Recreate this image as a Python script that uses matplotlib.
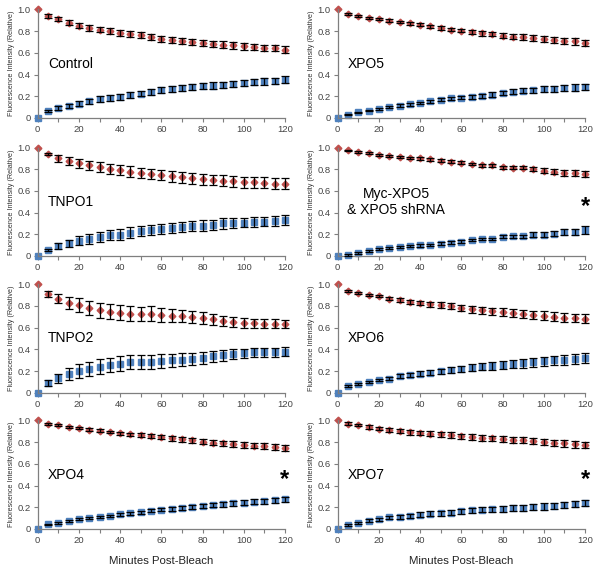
import numpy as np
import matplotlib.pyplot as plt

plt.rcParams['font.family'] = ['Liberation Sans', 'DejaVu Sans']

minutes = list(range(0, 125, 5))

names = ['Control', 'XPO5', 'TNPO1', 'Myc-XPO5\n& XPO5 shRNA', 'TNPO2', 'XPO6', 'XPO4', 'XPO7']
starred = [False, False, False, True, False, False, True, True]

# red = bleached compartment (decreasing), blue = recovery (increasing)
ctrl_red = [1.0, 0.94, 0.91, 0.88, 0.85, 0.83, 0.815, 0.80, 0.785, 0.775, 0.763, 0.745, 0.73,
            0.717, 0.708, 0.70, 0.692, 0.683, 0.677, 0.67, 0.66, 0.652, 0.646, 0.643, 0.63]
ctrl_red_err = [0, 0.015, 0.02, 0.022, 0.024, 0.025, 0.026, 0.027, 0.028, 0.028, 0.029, 0.029, 0.03,
                0.03, 0.03, 0.03, 0.03, 0.03, 0.03, 0.03, 0.03, 0.03, 0.03, 0.03, 0.03]
ctrl_blue = [0.0, 0.068, 0.092, 0.114, 0.132, 0.154, 0.175, 0.185, 0.194, 0.215, 0.225, 0.243, 0.255,
             0.268, 0.277, 0.283, 0.292, 0.298, 0.305, 0.314, 0.323, 0.332, 0.338, 0.342, 0.354]
ctrl_blue_err = [0, 0.01, 0.015, 0.018, 0.02, 0.022, 0.024, 0.025, 0.026, 0.027, 0.027, 0.028, 0.028,
                 0.028, 0.029, 0.029, 0.029, 0.03, 0.03, 0.03, 0.03, 0.03, 0.03, 0.03, 0.03]

xpo5_red = [1.0, 0.96, 0.94, 0.923, 0.914, 0.898, 0.883, 0.871, 0.858, 0.846, 0.83, 0.815, 0.806,
            0.794, 0.78, 0.775, 0.76, 0.75, 0.745, 0.735, 0.726, 0.72, 0.71, 0.705, 0.692]
xpo5_red_err = [0, 0.008, 0.008, 0.009, 0.01, 0.011, 0.012, 0.013, 0.014, 0.015, 0.016, 0.017, 0.018,
                0.019, 0.02, 0.021, 0.023, 0.024, 0.025, 0.026, 0.027, 0.028, 0.029, 0.03, 0.03]
xpo5_blue = [0.0, 0.03, 0.052, 0.068, 0.083, 0.10, 0.114, 0.126, 0.138, 0.154, 0.17, 0.18, 0.188,
             0.197, 0.206, 0.215, 0.23, 0.24, 0.25, 0.255, 0.265, 0.268, 0.274, 0.28, 0.286]
xpo5_blue_err = [0, 0.006, 0.007, 0.008, 0.009, 0.01, 0.011, 0.012, 0.013, 0.014, 0.015, 0.016, 0.017,
                 0.018, 0.019, 0.02, 0.022, 0.023, 0.024, 0.025, 0.026, 0.027, 0.028, 0.029, 0.03]

tnpo1_red = [1.0, 0.94, 0.90, 0.878, 0.854, 0.838, 0.817, 0.805, 0.796, 0.777, 0.765, 0.756, 0.747,
             0.735, 0.726, 0.716, 0.707, 0.70, 0.695, 0.689, 0.68, 0.68, 0.674, 0.668, 0.665]
tnpo1_red_err = [0, 0.012, 0.03, 0.035, 0.04, 0.042, 0.045, 0.046, 0.047, 0.048, 0.048, 0.049, 0.05,
                 0.05, 0.05, 0.05, 0.05, 0.05, 0.05, 0.05, 0.05, 0.05, 0.05, 0.05, 0.05]
tnpo1_blue = [0.0, 0.055, 0.09, 0.116, 0.14, 0.158, 0.177, 0.192, 0.198, 0.216, 0.229, 0.238, 0.247,
              0.256, 0.265, 0.277, 0.28, 0.287, 0.30, 0.30, 0.308, 0.311, 0.317, 0.323, 0.33]
tnpo1_blue_err = [0, 0.012, 0.03, 0.035, 0.04, 0.043, 0.045, 0.046, 0.047, 0.048, 0.048, 0.048, 0.048,
                  0.048, 0.048, 0.048, 0.048, 0.047, 0.047, 0.046, 0.045, 0.045, 0.045, 0.045, 0.045]

myc_red = [1.0, 0.975, 0.96, 0.95, 0.933, 0.924, 0.915, 0.905, 0.90, 0.89, 0.878, 0.869, 0.86,
           0.848, 0.835, 0.835, 0.817, 0.814, 0.814, 0.80, 0.787, 0.777, 0.768, 0.768, 0.756]
myc_red_err = [0, 0.006, 0.007, 0.008, 0.009, 0.01, 0.01, 0.011, 0.011, 0.012, 0.012, 0.012, 0.012,
               0.012, 0.012, 0.012, 0.014, 0.015, 0.016, 0.02, 0.022, 0.025, 0.027, 0.028, 0.03]
myc_blue = [0.0, 0.01, 0.03, 0.046, 0.064, 0.07, 0.085, 0.09, 0.098, 0.10, 0.113, 0.122, 0.131,
            0.146, 0.158, 0.158, 0.177, 0.18, 0.18, 0.198, 0.198, 0.207, 0.22, 0.222, 0.238]
myc_blue_err = [0, 0.006, 0.007, 0.008, 0.009, 0.01, 0.01, 0.011, 0.011, 0.012, 0.012, 0.012, 0.012,
                0.012, 0.012, 0.012, 0.013, 0.014, 0.015, 0.02, 0.022, 0.025, 0.027, 0.028, 0.035]

tnpo2_red = [1.0, 0.914, 0.868, 0.828, 0.807, 0.785, 0.76, 0.748, 0.736, 0.73, 0.724, 0.73, 0.718,
             0.71, 0.709, 0.70, 0.69, 0.675, 0.663, 0.65, 0.644, 0.638, 0.635, 0.635, 0.632]
tnpo2_red_err = [0, 0.028, 0.045, 0.055, 0.062, 0.065, 0.068, 0.068, 0.068, 0.066, 0.065, 0.065, 0.063,
                 0.06, 0.058, 0.055, 0.053, 0.05, 0.048, 0.046, 0.045, 0.044, 0.042, 0.041, 0.04]
tnpo2_blue = [0.0, 0.086, 0.132, 0.172, 0.20, 0.215, 0.24, 0.255, 0.267, 0.28, 0.285, 0.28, 0.295,
              0.30, 0.304, 0.31, 0.32, 0.334, 0.344, 0.353, 0.362, 0.371, 0.374, 0.374, 0.377]
tnpo2_blue_err = [0, 0.028, 0.045, 0.055, 0.062, 0.065, 0.068, 0.068, 0.068, 0.066, 0.065, 0.065, 0.063,
                  0.06, 0.058, 0.055, 0.053, 0.05, 0.048, 0.046, 0.045, 0.044, 0.042, 0.041, 0.04]

xpo6_red = [1.0, 0.94, 0.92, 0.902, 0.89, 0.868, 0.853, 0.837, 0.828, 0.816, 0.807, 0.797, 0.782,
            0.77, 0.76, 0.75, 0.742, 0.733, 0.724, 0.718, 0.709, 0.70, 0.693, 0.69, 0.684]
xpo6_red_err = [0, 0.008, 0.009, 0.01, 0.012, 0.015, 0.018, 0.02, 0.022, 0.024, 0.026, 0.028, 0.03,
                0.032, 0.034, 0.035, 0.036, 0.037, 0.038, 0.039, 0.04, 0.04, 0.04, 0.04, 0.04]
xpo6_blue = [0.0, 0.061, 0.08, 0.10, 0.117, 0.129, 0.15, 0.166, 0.175, 0.184, 0.196, 0.209, 0.218,
             0.23, 0.24, 0.248, 0.255, 0.264, 0.27, 0.282, 0.291, 0.298, 0.304, 0.31, 0.319]
xpo6_blue_err = [0, 0.008, 0.009, 0.01, 0.012, 0.015, 0.018, 0.02, 0.022, 0.024, 0.026, 0.028, 0.03,
                 0.032, 0.034, 0.036, 0.038, 0.039, 0.04, 0.041, 0.042, 0.043, 0.044, 0.045, 0.045]

xpo4_red = [1.0, 0.969, 0.96, 0.944, 0.928, 0.916, 0.906, 0.894, 0.881, 0.872, 0.866, 0.856, 0.844,
            0.834, 0.825, 0.816, 0.803, 0.797, 0.79, 0.784, 0.775, 0.769, 0.762, 0.756, 0.747]
xpo4_red_err = [0, 0.007, 0.008, 0.009, 0.01, 0.011, 0.012, 0.013, 0.014, 0.015, 0.016, 0.017, 0.018,
                0.019, 0.02, 0.021, 0.022, 0.023, 0.024, 0.025, 0.026, 0.027, 0.028, 0.029, 0.03]
xpo4_blue = [0.0, 0.044, 0.056, 0.075, 0.088, 0.10, 0.11, 0.119, 0.134, 0.144, 0.156, 0.169, 0.178,
             0.184, 0.194, 0.203, 0.213, 0.219, 0.228, 0.238, 0.244, 0.25, 0.256, 0.263, 0.272]
xpo4_blue_err = [0, 0.006, 0.007, 0.008, 0.009, 0.01, 0.011, 0.012, 0.012, 0.013, 0.014, 0.015, 0.016,
                 0.017, 0.018, 0.019, 0.02, 0.021, 0.022, 0.023, 0.023, 0.024, 0.024, 0.025, 0.025]

xpo7_red = [1.0, 0.972, 0.96, 0.94, 0.925, 0.91, 0.903, 0.89, 0.884, 0.878, 0.872, 0.866, 0.853,
            0.847, 0.84, 0.834, 0.828, 0.822, 0.816, 0.81, 0.803, 0.794, 0.788, 0.78, 0.772]
xpo7_red_err = [0, 0.01, 0.012, 0.014, 0.016, 0.018, 0.02, 0.021, 0.022, 0.023, 0.024, 0.025, 0.025,
                0.026, 0.026, 0.027, 0.027, 0.028, 0.028, 0.029, 0.029, 0.03, 0.03, 0.03, 0.03]
xpo7_blue = [0.0, 0.04, 0.056, 0.078, 0.09, 0.106, 0.1125, 0.122, 0.131, 0.14, 0.147, 0.15, 0.1625,
             0.172, 0.178, 0.181, 0.184, 0.19, 0.197, 0.203, 0.206, 0.2125, 0.222, 0.231, 0.24]
xpo7_blue_err = [0, 0.008, 0.01, 0.012, 0.014, 0.016, 0.018, 0.02, 0.021, 0.022, 0.023, 0.024, 0.025,
                 0.025, 0.026, 0.026, 0.027, 0.027, 0.028, 0.028, 0.029, 0.029, 0.03, 0.03, 0.03]

red_sets = [(ctrl_red, ctrl_red_err), (xpo5_red, xpo5_red_err), (tnpo1_red, tnpo1_red_err),
            (myc_red, myc_red_err), (tnpo2_red, tnpo2_red_err), (xpo6_red, xpo6_red_err),
            (xpo4_red, xpo4_red_err), (xpo7_red, xpo7_red_err)]
blue_sets = [(ctrl_blue, ctrl_blue_err), (xpo5_blue, xpo5_blue_err), (tnpo1_blue, tnpo1_blue_err),
             (myc_blue, myc_blue_err), (tnpo2_blue, tnpo2_blue_err), (xpo6_blue, xpo6_blue_err),
             (xpo4_blue, xpo4_blue_err), (xpo7_blue, xpo7_blue_err)]

RED = '#C0504D'
BLUE = '#4F81BD'
AXC = '#7F7F7F'

fig = plt.figure(figsize=(6.01, 5.68), dpi=100)

lefts = [0.0627, 0.5619]
bottoms = [0.7923, 0.5493, 0.3086, 0.0687]
w, h = 0.4115, 0.191

for i in range(8):
    r, c = divmod(i, 2)
    ax = fig.add_axes([lefts[c], bottoms[r], w, h])
    ry, re = red_sets[i]
    by, be = blue_sets[i]
    # markers first, error bars drawn over them (as in the original)
    ax.plot(minutes, ry, 'D', color=RED, ms=3.4, mec=RED, zorder=2, clip_on=False)
    ax.plot(minutes, by, 's', color=BLUE, ms=4.2, mec=BLUE, zorder=2, clip_on=False)
    for yy, ee in [(ry, re), (by, be)]:
        # t=0 has no error bar
        eb = ax.errorbar(minutes[1:], yy[1:], yerr=ee[1:], fmt='none', ecolor='black',
                         elinewidth=0.9, capsize=2.6, capthick=0.9, zorder=3)
        for art in eb.lines[1] + eb.lines[2]:
            art.set_clip_on(False)
    ax.set_xlim(0, 120)
    ax.set_ylim(0, 1.0)
    ax.set_xticks(range(0, 121, 20))
    ax.set_xticks(range(0, 121, 10), minor=True)
    ax.set_yticks([0, 0.2, 0.4, 0.6, 0.8, 1.0])
    ax.set_yticklabels(['0', '0.2', '0.4', '0.6', '0.8', '1.0'])
    for sp in ['top', 'right']:
        ax.spines[sp].set_visible(False)
    for sp in ['left', 'bottom']:
        ax.spines[sp].set_color(AXC)
        ax.spines[sp].set_linewidth(0.9)
    ax.tick_params(which='both', direction='out', color=AXC, width=0.8, labelsize=6.8,
                   labelcolor='#444444', pad=2)
    ax.tick_params(which='major', length=3)
    ax.tick_params(which='minor', length=3)
    ax.set_ylabel('Fluorescence Intensity (Relative)', fontsize=5.2, color='#333333', labelpad=2)
    if '\n' in names[i]:
        ax.text(0.237, 0.5, names[i], transform=ax.transAxes, fontsize=10,
                ha='center', va='center', linespacing=1.15, multialignment='center')
    else:
        ax.text(0.042, 0.5, names[i], transform=ax.transAxes, fontsize=10,
                ha='left', va='center')
    if starred[i]:
        ax.text(1.0, 0.46, '*', transform=ax.transAxes, fontsize=17, fontweight='bold',
                ha='center', va='center')
    if r == 3:
        ax.set_xlabel('Minutes Post-Bleach', fontsize=8.2, labelpad=8, color='#222222')

fig.savefig('out.png', dpi=100)
